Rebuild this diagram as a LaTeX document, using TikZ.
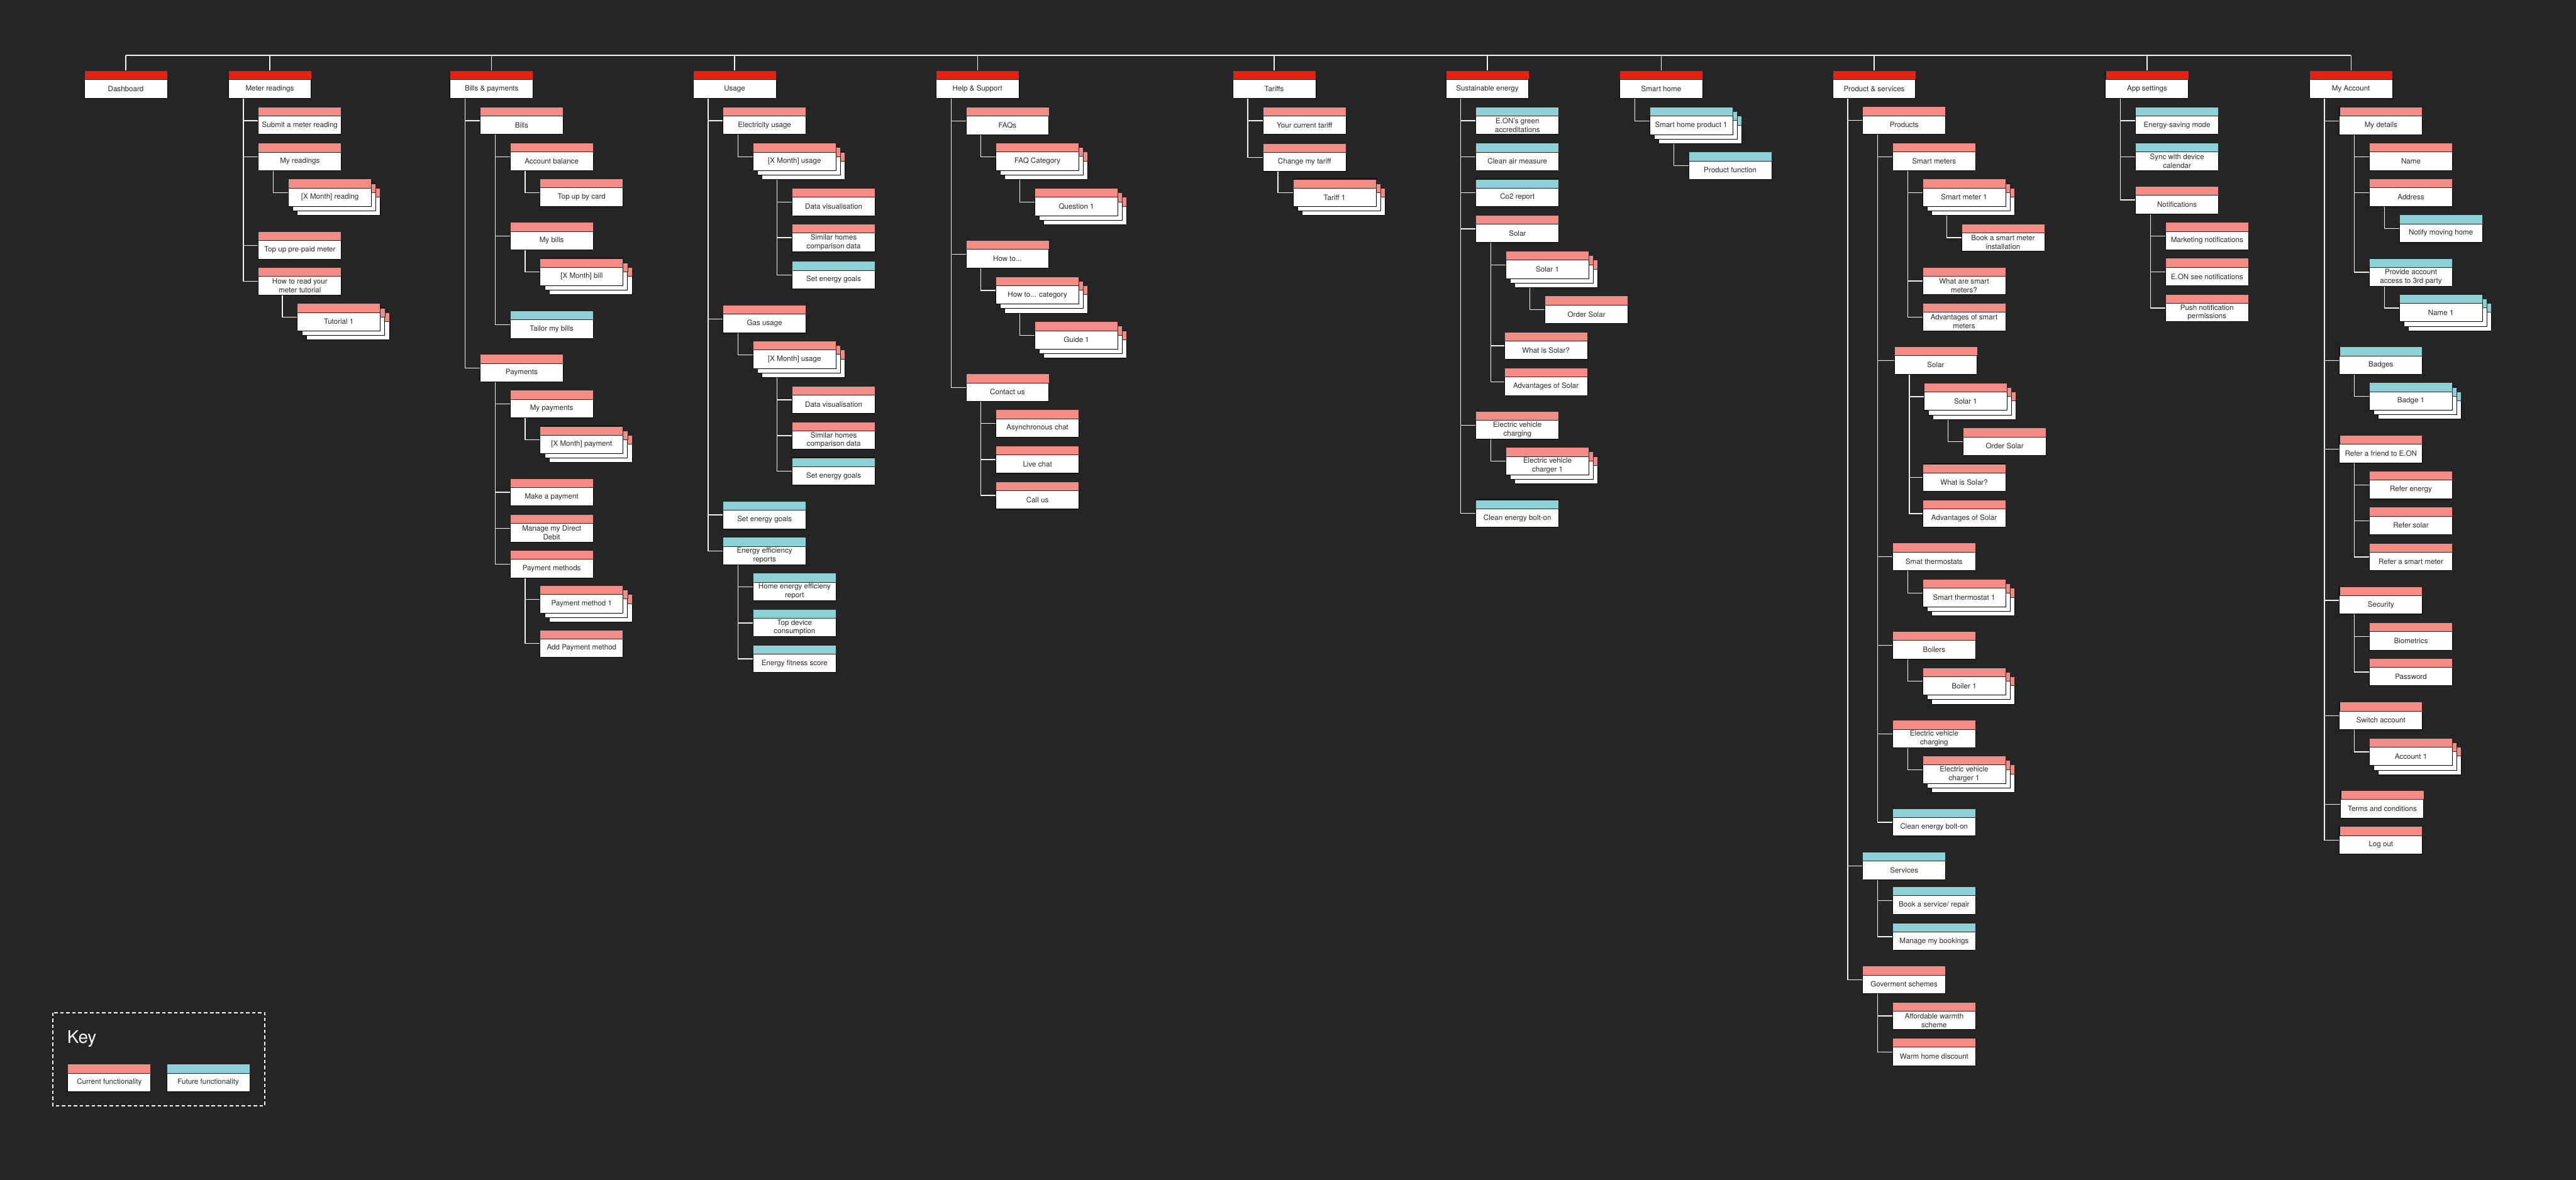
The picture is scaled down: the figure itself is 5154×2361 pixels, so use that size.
\documentclass[tikz,border=0pt]{standalone}
\usepackage{fontspec}
\setmainfont{TeX Gyre Heros}
\pgfdeclarelayer{background}
\pgfsetlayers{background,main}
\definecolor{bgc}{HTML}{252525}
\definecolor{cR}{HTML}{EA1F0F}
\definecolor{cS}{HTML}{F28C84}
\definecolor{cT}{HTML}{8DD0D6}
\definecolor{txc}{HTML}{2A2A2A}
\definecolor{lnc}{HTML}{F2F2F2}
\tikzset{
  boxn/.style={draw=black,line width=0.6pt,fill=white,minimum width=83pt,minimum height=27.5pt,inner sep=0pt,outer sep=0pt,anchor=north west},
  hdr/.style={draw=black!85,line width=0.5pt},
  txt/.style={font=\fontsize{7.3}{8.6}\selectfont,align=center,text=txc,inner sep=0pt},
  conn/.style={draw=lnc,line width=0.8pt},
  keyframe/.style={draw=white,line width=1.3pt,dash pattern=on 3.5pt off 2.5pt}
}
\newcommand{\myback}[4]{%
  \node[boxn] (#1) at ({#2},{#3}) {};
  \filldraw[hdr,fill=#4] (#1.north west) rectangle ([yshift=-9pt]#1.north east);}
\newcommand{\mybox}[5]{%
  \node[boxn] (#1) at ({#2},{#3}) {};
  \filldraw[hdr,fill=#4] (#1.north west) rectangle ([yshift=-9pt]#1.north east);
  \node[txt] (#1-t) at ([yshift=-4.5pt]#1.center) {#5};}
\newcommand{\mystack}[5]{%
  \myback{#1-b2}{#2+18}{#3+18}{#4}%
  \myback{#1-b1}{#2+9}{#3+9}{#4}%
  \mybox{#1}{#2}{#3}{#4}{#5}}
\newcommand{\myconn}[3]{\draw[conn] ([xshift=#3]#1.south west) |- (#2.west);}
\newcommand{\mytop}[1]{\draw[conn] (#1.north) -- (#1.north |- bus);}
\begin{document}
\begin{tikzpicture}[x=0.5pt,y=-0.5pt]
\useasboundingbox (0,0) rectangle (5154,2361);
\coordinate (bus) at (0,110.7);
% ---------- top level
\mybox{dash}{168.7}{141.5}{cR}{Dashboard}
\mybox{mr}{456.8}{141.5}{cR}{Meter readings}
\mybox{bp}{900.7}{141.5}{cR}{Bills \& payments}
\mybox{us}{1386.7}{141.5}{cR}{Usage}
\mybox{hs}{1872.7}{141.5}{cR}{Help \& Support}
\mybox{ta}{2466.3}{141.5}{cR}{Tariffs}
\mybox{se}{2892.8}{141.5}{cR}{Sustainable energy}
\mybox{sh}{3240.7}{141.5}{cR}{Smart home}
\mybox{ps}{3666.7}{141.5}{cR}{Product \& services}
\mybox{as}{4212.7}{141.5}{cR}{App settings}
\mybox{ma}{4620.7}{141.5}{cR}{My Account}
% ---------- meter readings
\mybox{mr1}{517}{214}{cS}{Submit a meter reading}
\mybox{mr2}{517}{286.4}{cS}{My readings}
\mystack{mr2a}{577}{358.3}{cS}{[X Month] reading}
\mybox{mr3}{517}{463.6}{cS}{Top up pre-paid meter}
\mybox{mr4}{517}{535.5}{cS}{How to read your\\meter tutorial}
\mystack{mr4a}{595}{607.5}{cS}{Tutorial 1}
% ---------- bills & payments
\mybox{bp1}{960.7}{214.2}{cS}{Bills}
\mybox{bp1a}{1020.7}{286}{cS}{Account balance}
\mybox{bp1a1}{1080.7}{358}{cS}{Top up by card}
\mybox{bp1b}{1020.7}{445.2}{cS}{My bills}
\mystack{bp1b1}{1080.7}{517.1}{cS}{[X Month] bill}
\mybox{bp1c}{1020.7}{622}{cT}{Tailor my bills}
\mybox{bp2}{960.7}{709.2}{cS}{Payments}
\mybox{bp2a}{1020.7}{781.1}{cS}{My payments}
\mystack{bp2a1}{1080.7}{853}{cS}{[X Month] payment}
\mybox{bp2b}{1020.7}{957.8}{cS}{Make a payment}
\mybox{bp2c}{1020.7}{1029.8}{cS}{Manage my Direct\\Debit}
\mybox{bp2d}{1020.7}{1101.7}{cS}{Payment methods}
\mystack{bp2d1}{1080.7}{1172}{cS}{Payment method 1}
\mybox{bp2d2}{1080.7}{1260.8}{cS}{Add Payment method}
% ---------- usage
\mybox{us1}{1446.7}{214}{cS}{Electricity usage}
\mystack{us1a}{1506.7}{286.4}{cS}{[X Month] usage}
\mybox{us1a1}{1585}{376.7}{cS}{Data visualisation}
\mybox{us1a2}{1585}{448.3}{cS}{Similar homes\\comparison data}
\mybox{us1a3}{1585}{523}{cT}{Set energy goals}
\mybox{us2}{1446.7}{611}{cS}{Gas usage}
\mystack{us2a}{1506.7}{682.5}{cS}{[X Month] usage}
\mybox{us2a1}{1585}{772.8}{cS}{Data visualisation}
\mybox{us2a2}{1585}{844.4}{cS}{Similar homes\\comparison data}
\mybox{us2a3}{1585}{916}{cT}{Set energy goals}
\mybox{us3}{1446.7}{1003.2}{cT}{Set energy goals}
\mybox{us4}{1446.7}{1075.5}{cT}{Energy efficiency\\reports}
\mybox{us4a}{1506.7}{1147.1}{cT}{Home energy efficieny\\report}
\mybox{us4b}{1506.7}{1219.5}{cT}{Top device\\consumption}
\mybox{us4c}{1506.7}{1291.1}{cT}{Energy fitness score}
% ---------- help & support
\mybox{hs1}{1932.7}{214.4}{cS}{FAQs}
\mystack{hs1a}{1992.7}{286.1}{cS}{FAQ Category}
\mystack{hs1a1}{2070.7}{376.8}{cS}{Question 1}
\mybox{hs2}{1932.7}{481.3}{cS}{How to...}
\mystack{hs2a}{1992.7}{553.7}{cS}{How to... category}
\mystack{hs2a1}{2070.7}{643.8}{cS}{Guide 1}
\mybox{hs3}{1932.7}{748.3}{cS}{Contact us}
\mybox{hs3a}{1992.7}{820}{cS}{Asynchronous chat}
\mybox{hs3b}{1992.7}{892.3}{cS}{Live chat}
\mybox{hs3c}{1992.7}{964.1}{cS}{Call us}
% ---------- tariffs
\mybox{ta1}{2527}{214.2}{cS}{Your current tariff}
\mybox{ta2}{2527}{287.6}{cS}{Change my tariff}
\mystack{ta2a}{2587.1}{358.5}{cS}{Tariff 1}
% ---------- sustainable energy
\mybox{se1}{2953}{214.2}{cT}{E.ON's green\\accreditations}
\mybox{se2}{2953}{286.4}{cT}{Clean air measure}
\mybox{se3}{2953}{358.5}{cT}{Co2 report}
\mybox{se4}{2953}{430.6}{cS}{Solar}
\mystack{se4a}{3013.1}{502.7}{cS}{Solar 1}
\mybox{se4a1}{3091.2}{592.4}{cS}{Order Solar}
\mybox{se4b}{3010}{664.5}{cS}{What is Solar?}
\mybox{se4c}{3010}{736.7}{cS}{Advantages of Solar}
\mybox{se5}{2953}{823.3}{cS}{Electric vehicle\\charging}
\mystack{se5a}{3013.1}{895.5}{cS}{Electric vehicle\\charger 1}
\mybox{se6}{2953}{1000.3}{cT}{Clean energy bolt-on}
% ---------- smart home
\mystack{sh1}{3300.7}{214.3}{cT}{Smart home product 1}
\mybox{sh1a}{3378.7}{304}{cT}{Product function}
% ---------- product & services
\mybox{ps1}{3726.7}{213.5}{cS}{Products}
\mybox{ps1a}{3786.7}{286.3}{cS}{Smart meters}
\mystack{ps1a1}{3846.7}{358.3}{cS}{Smart meter 1}
\mybox{ps1a1a}{3924.7}{448.2}{cS}{Book a smart meter\\installation}
\mybox{ps1a2}{3846.7}{535}{cS}{What are smart\\meters?}
\mybox{ps1a3}{3846.7}{607}{cS}{Advantages of smart\\meters}
\mybox{ps1b}{3790}{693.8}{cS}{Solar}
\mystack{ps1b1}{3849.7}{766.5}{cS}{Solar 1}
\mybox{ps1b1a}{3928}{856.4}{cS}{Order Solar}
\mybox{ps1b2}{3846.7}{928.5}{cS}{What is Solar?}
\mybox{ps1b3}{3846.7}{1000.5}{cS}{Advantages of Solar}
\mybox{ps1c}{3786.7}{1087}{cS}{Smat thermostats}
\mystack{ps1c1}{3846.7}{1159.5}{cS}{Smart thermostat 1}
\mybox{ps1d}{3786.7}{1264}{cS}{Boilers}
\mystack{ps1d1}{3846.7}{1336.3}{cS}{Boiler 1}
\mybox{ps1e}{3786.7}{1441.6}{cS}{Electric vehicle\\charging}
\mystack{ps1e1}{3846.7}{1513.2}{cS}{Electric vehicle\\charger 1}
\mybox{ps1f}{3786.7}{1618.4}{cT}{Clean energy bolt-on}
\mybox{ps2}{3726.7}{1705.4}{cT}{Services}
\mybox{ps2a}{3786.7}{1774.9}{cT}{Book a service/ repair}
\mybox{ps2b}{3786.7}{1847.2}{cT}{Manage my bookings}
\mybox{ps3}{3726.7}{1933.5}{cS}{Goverment schemes}
\mybox{ps3a}{3786.7}{2005.8}{cS}{Affordable warmth\\scheme}
\mybox{ps3b}{3786.7}{2078}{cS}{Warm home discount}
% ---------- app settings
\mybox{as1}{4272.7}{214.2}{cT}{Energy-saving mode}
\mybox{as2}{4272.7}{286.1}{cT}{Sync with device\\calendar}
\mybox{as3}{4272.7}{372.8}{cS}{Notifications}
\mybox{as3a}{4332.7}{445.1}{cS}{Marketing notifications}
\mybox{as3b}{4332.7}{517}{cS}{E.ON see notifications}
\mybox{as3c}{4332.7}{589}{cS}{Push notification\\permissions}
% ---------- my account
\mybox{ma1}{4680.7}{214.4}{cS}{My details}
\mybox{ma1a}{4740.7}{286.1}{cS}{Name}
\mybox{ma1b}{4740.7}{357.9}{cS}{Address}
\mybox{ma1b1}{4800.7}{430.2}{cT}{Notify moving home}
\mybox{ma1c}{4740.7}{517.5}{cT}{Provide account\\access to 3rd party}
\mystack{ma1c1}{4800.7}{589.2}{cT}{Name 1}
\mybox{ma2}{4680.7}{694.3}{cT}{Badges}
\mystack{ma2a}{4740.7}{766}{cT}{Badge 1}
\mybox{ma3}{4680.7}{871.1}{cS}{Refer a friend to E.ON}
\mybox{ma3a}{4740.7}{942.9}{cS}{Refer energy}
\mybox{ma3b}{4740.7}{1015.2}{cS}{Refer solar}
\mybox{ma3c}{4740.7}{1087.2}{cS}{Refer a smart meter}
\mybox{ma4}{4680.7}{1174}{cS}{Security}
\mybox{ma4a}{4740.7}{1246.1}{cS}{Biometrics}
\mybox{ma4b}{4740.7}{1317.7}{cS}{Password}
\mybox{ma5}{4680.7}{1405}{cS}{Switch account}
\mystack{ma5a}{4740.7}{1477.5}{cS}{Account 1}
\mybox{ma6}{4683.3}{1582.2}{cS}{Terms and conditions}
\mybox{ma7}{4680.7}{1654.3}{cS}{Log out}
% ---------- key
\draw[keyframe] (106,2026.7) rectangle (530,2213.3);
\node[anchor=base west,inner sep=0pt,text=white,font=\fontsize{17.5}{20}\selectfont] (keyt) at (134,2088.3) {Key};
\mybox{kcur}{135.7}{2130}{cS}{Current functionality}
\mybox{kfut}{333.7}{2130}{cT}{Future functionality}
% ---------- connectors
\begin{pgfonlayer}{background}
\fill[bgc] (-12,-12) rectangle (5166,2373);
\draw[conn] (dash.north |- bus) -- (ma.north |- bus);
\foreach \t in {dash,mr,bp,us,hs,ta,se,sh,ps,as,ma} {\mytop{\t}}
\foreach \c in {mr1,mr2,mr3,mr4} {\myconn{mr}{\c}{15pt}}
\myconn{mr2}{mr2a}{15pt}
\myconn{mr4}{mr4a}{24pt}
\foreach \c in {bp1,bp2} {\myconn{bp}{\c}{15pt}}
\foreach \c in {bp1a,bp1b,bp1c} {\myconn{bp1}{\c}{15pt}}
\myconn{bp1a}{bp1a1}{15pt}
\myconn{bp1b}{bp1b1}{15pt}
\foreach \c in {bp2a,bp2b,bp2c,bp2d} {\myconn{bp2}{\c}{15pt}}
\myconn{bp2a}{bp2a1}{15pt}
\foreach \c in {bp2d1,bp2d2} {\myconn{bp2d}{\c}{15pt}}
\foreach \c in {us1,us2,us3,us4} {\myconn{us}{\c}{15pt}}
\myconn{us1}{us1a}{15pt}
\foreach \c in {us1a1,us1a2,us1a3} {\myconn{us1a}{\c}{24pt}}
\myconn{us2}{us2a}{15pt}
\foreach \c in {us2a1,us2a2,us2a3} {\myconn{us2a}{\c}{24pt}}
\foreach \c in {us4a,us4b,us4c} {\myconn{us4}{\c}{15pt}}
\foreach \c in {hs1,hs2,hs3} {\myconn{hs}{\c}{15pt}}
\myconn{hs1}{hs1a}{15pt}
\myconn{hs1a}{hs1a1}{24pt}
\myconn{hs2}{hs2a}{15pt}
\myconn{hs2a}{hs2a1}{24pt}
\foreach \c in {hs3a,hs3b,hs3c} {\myconn{hs3}{\c}{15pt}}
\foreach \c in {ta1,ta2} {\myconn{ta}{\c}{15pt}}
\myconn{ta2}{ta2a}{15pt}
\foreach \c in {se1,se2,se3,se4,se5,se6} {\myconn{se}{\c}{15pt}}
\foreach \c in {se4a,se4b,se4c} {\myconn{se4}{\c}{15pt}}
\myconn{se4a}{se4a1}{24pt}
\myconn{se5}{se5a}{15pt}
\myconn{sh}{sh1}{15pt}
\myconn{sh1}{sh1a}{24pt}
\foreach \c in {ps1,ps2,ps3} {\myconn{ps}{\c}{15pt}}
\foreach \c in {ps1a,ps1b,ps1c,ps1d,ps1e,ps1f} {\myconn{ps1}{\c}{15pt}}
\foreach \c in {ps1a1,ps1a2,ps1a3} {\myconn{ps1a}{\c}{15pt}}
\myconn{ps1a1}{ps1a1a}{24pt}
\foreach \c in {ps1b1,ps1b2,ps1b3} {\myconn{ps1b}{\c}{15pt}}
\myconn{ps1b1}{ps1b1a}{24pt}
\myconn{ps1c}{ps1c1}{15pt}
\myconn{ps1d}{ps1d1}{15pt}
\myconn{ps1e}{ps1e1}{15pt}
\foreach \c in {ps2a,ps2b} {\myconn{ps2}{\c}{15pt}}
\foreach \c in {ps3a,ps3b} {\myconn{ps3}{\c}{15pt}}
\foreach \c in {as1,as2,as3} {\myconn{as}{\c}{15pt}}
\foreach \c in {as3a,as3b,as3c} {\myconn{as3}{\c}{15pt}}
\foreach \c in {ma1,ma2,ma3,ma4,ma5,ma6,ma7} {\myconn{ma}{\c}{15pt}}
\foreach \c in {ma1a,ma1b,ma1c} {\myconn{ma1}{\c}{15pt}}
\myconn{ma1b}{ma1b1}{15pt}
\myconn{ma1c}{ma1c1}{15pt}
\myconn{ma2}{ma2a}{15pt}
\foreach \c in {ma3a,ma3b,ma3c} {\myconn{ma3}{\c}{15pt}}
\foreach \c in {ma4a,ma4b} {\myconn{ma4}{\c}{15pt}}
\myconn{ma5}{ma5a}{15pt}
\end{pgfonlayer}
\end{tikzpicture}
\end{document}
